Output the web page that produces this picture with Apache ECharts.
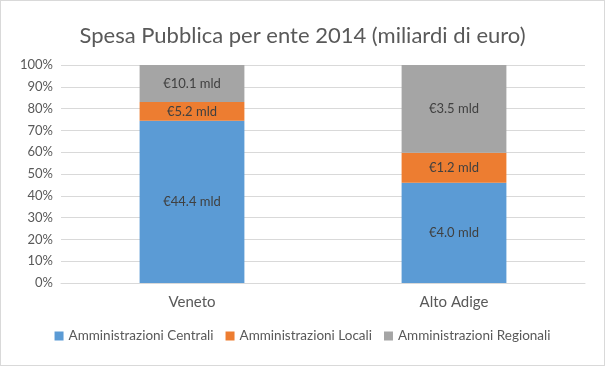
<!DOCTYPE html>
<html><head><meta charset="utf-8">
<script src="https://cdn.jsdelivr.net/npm/echarts@6/dist/echarts.min.js"></script>
<style>html,body{margin:0;padding:0;background:#fff}#c{width:605px;height:366px;box-sizing:border-box;border:1px solid #d9d9d9}</style>
</head><body><div id="c"></div>
<script>
var categories = ['Veneto', 'Alto Adige'];
var centrali = [44.4, 4.0];
var locali = [5.2, 1.2];
var regionali = [10.1, 3.5];
var seriesNames = ['Amministrazioni Centrali', 'Amministrazioni Locali', 'Amministrazioni Regionali'];
var colors = ['#5B9BD5', '#ED7D31', '#A5A5A5'];

var totals = categories.map(function(_, i){ return centrali[i] + locali[i] + regionali[i]; });
function pct(arr){ return arr.map(function(v, i){ return { value: v / totals[i] * 100, raw: v }; }); }
var font = 'Lato, "Open Sans", sans-serif';
var chart = echarts.init(document.getElementById('c'));
function mk(name, arr, color){
  return {
    name: name, type: 'bar', stack: 's', barWidth: '40%',
    data: pct(arr),
    itemStyle: { color: color },
    label: { show: true, position: 'inside', color: '#404040', fontSize: 13, fontFamily: font,
      formatter: function(p){ return '€' + p.data.raw.toFixed(1) + ' mld'; } }
  };
}
chart.setOption({
  animation: false,
  title: { text: 'Spesa Pubblica per ente 2014 (miliardi di euro)', left: 'center', top: 19,
    textStyle: { fontSize: 22, fontWeight: 'normal', color: '#595959', fontFamily: font } },
  grid: { left: 60, right: 19, top: 64, bottom: 82, containLabel: false },
  legend: { bottom: 17, itemWidth: 9, itemHeight: 9, itemGap: 12, icon: 'rect',
    textStyle: { fontSize: 13.5, color: '#595959', fontFamily: font } },
  xAxis: { type: 'category', data: categories,
    axisLine: { lineStyle: { color: '#d9d9d9' } }, axisTick: { show: false },
    axisLabel: { fontSize: 15, color: '#595959', fontFamily: font, margin: 12 } },
  yAxis: { type: 'value', min: 0, max: 100, interval: 10,
    axisLabel: { formatter: '{value}%', fontSize: 13, color: '#595959', fontFamily: font, margin: 8 },
    splitLine: { lineStyle: { color: '#d9d9d9' } } },
  series: [mk(seriesNames[0], centrali, colors[0]), mk(seriesNames[1], locali, colors[1]), mk(seriesNames[2], regionali, colors[2])]
});
</script></body></html>
